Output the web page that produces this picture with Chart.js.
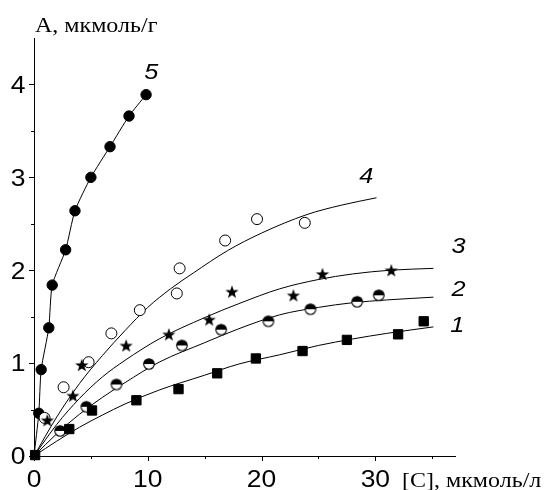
<!DOCTYPE html>
<html>
<head>
<meta charset="utf-8">
<script src="https://cdn.jsdelivr.net/npm/chart.js@4/dist/chart.umd.min.js"></script>
<style>
  html, body { margin: 0; padding: 0; background: #fff; }
  #chart { display: block; }
</style>
</head>
<body>
<canvas id="chart" width="544" height="490"></canvas>
<script>
// измеренные точки (x — [C], мкмоль/л; y — A, мкмоль/г)
const s1X = [0.1, 3.1, 5.1, 9.0, 12.7, 16.1, 19.5, 23.6, 27.5, 32.0, 34.25];
const s1Y = [0.01, 0.29, 0.49, 0.60, 0.72, 0.89, 1.05, 1.13, 1.25, 1.31, 1.45];

const s2X = [2.3, 4.6, 7.25, 10.1, 13.0, 16.45, 20.6, 24.3, 28.4, 30.3];
const s2Y = [0.27, 0.53, 0.77, 0.99, 1.19, 1.36, 1.45, 1.58, 1.66, 1.73];

const s3X = [1.17, 3.42, 4.2, 8.1, 11.85, 15.4, 17.4, 22.8, 25.35, 31.4];
const s3Y = [0.385, 0.65, 0.98, 1.19, 1.31, 1.47, 1.77, 1.73, 1.96, 2.0];

const s4X = [0.93, 2.6, 4.8, 6.8, 9.3, 12.55, 12.8, 16.8, 19.6, 23.8];
const s4Y = [0.41, 0.74, 1.01, 1.32, 1.57, 1.75, 2.02, 2.32, 2.55, 2.51];

const s5X = [0.42, 0.63, 1.3, 1.6, 2.78, 3.6, 5.0, 6.68, 8.35, 9.85];
const s5Y = [0.46, 0.93, 1.38, 1.84, 2.22, 2.64, 3.0, 3.33, 3.66, 3.89];

// аппроксимирующие кривые
const fit1X = [0, 2, 4, 6, 8, 11, 15, 18, 21.6, 25, 28, 31, 35.1];
const fit1Y = [0, 0.16, 0.31, 0.44, 0.56, 0.71, 0.87, 0.99, 1.09, 1.19, 1.26, 1.32, 1.39];
const fit2X = [0, 2, 4, 6, 8, 11, 15, 18, 21.6, 25, 28, 31, 35.1];
const fit2Y = [0, 0.24, 0.45, 0.63, 0.79, 1.01, 1.22, 1.37, 1.52, 1.60, 1.65, 1.68, 1.71];
const fit3X = [0, 2, 4, 6, 8, 11, 15, 18, 21.6, 25, 28, 31.3, 35.1];
const fit3Y = [0, 0.34, 0.62, 0.85, 1.03, 1.26, 1.49, 1.64, 1.80, 1.90, 1.96, 2.0, 2.02];
const fit4X = [0, 2, 4, 6, 8, 10, 12, 14, 17, 20, 24, 27, 30.1];
const fit4Y = [0, 0.42, 0.78, 1.08, 1.35, 1.60, 1.80, 1.97, 2.21, 2.40, 2.60, 2.70, 2.78];
const fit5X = [0, 0.42, 0.63, 1.3, 1.6, 2.78, 3.6, 5.0, 6.68, 8.35, 9.85];
const fit5Y = [0, 0.46, 0.93, 1.38, 1.84, 2.22, 2.64, 3.0, 3.33, 3.66, 3.89];

// оси
const xMajor = [0, 10, 20, 30];
const xMinor = [5, 15, 25, 35];
const yMajor = [0, 1, 2, 3, 4];
const yMinor = [0.5, 1.5, 2.5, 3.5];
const xTitle = '[C], мкмоль/л';
const yTitle = 'A, мкмоль/г';

// номера кривых
const curveNames = ['1', '2', '3', '4', '5'];
const curveNameX = [37.2, 37.3, 37.3, 29.2, 10.3];
const curveNameY = [1.34, 1.72, 2.19, 2.94, 4.06];

const toXY = (xs, ys) => xs.map((v, i) => ({ x: v, y: ys[i] }));

// маркеры
function halfCircle(r) {
    const s = Math.ceil(r * 2 + 3);
    const c = document.createElement('canvas');
    c.width = s; c.height = s;
    const g = c.getContext('2d');
    const m = s / 2;
    g.fillStyle = '#fff';
    g.beginPath(); g.arc(m, m, r, 0, Math.PI * 2); g.fill();
    g.fillStyle = '#000';
    g.beginPath(); g.arc(m, m, r, Math.PI, Math.PI * 2); g.closePath(); g.fill();
    g.strokeStyle = '#000'; g.lineWidth = 1.1;
    g.beginPath(); g.arc(m, m, r, 0, Math.PI * 2); g.stroke();
    return c;
}

function filledStar(R, r) {
    const s = Math.ceil(R * 2 + 2);
    const c = document.createElement('canvas');
    c.width = s; c.height = s;
    const g = c.getContext('2d');
    const m = s / 2;
    g.fillStyle = '#000';
    g.beginPath();
    for (let i = 0; i < 10; i++) {
        const a = -Math.PI / 2 + i * Math.PI / 5;
        const rr = i % 2 ? r : R;
        const px = m + rr * Math.cos(a), py = m + 0.7 + rr * Math.sin(a);
        if (i === 0) g.moveTo(px, py); else g.lineTo(px, py);
    }
    g.closePath();
    g.fill();
    return c;
}

function drawStretched(ctx, str, px, py, font, align, sx) {
    ctx.save();
    ctx.font = font;
    ctx.textAlign = 'left';
    ctx.textBaseline = 'alphabetic';
    const w = ctx.measureText(str).width * sx;
    const x0 = align === 'center' ? px - w / 2 : align === 'right' ? px - w : px;
    ctx.translate(x0, py);
    ctx.scale(sx, 1);
    ctx.fillStyle = '#000';
    ctx.fillText(str, 0, 0);
    ctx.restore();
}

const axisDecor = {
    id: 'axisDecor',
    afterDraw(chart) {
        const { ctx } = chart;
        const xs = chart.scales.x, ys = chart.scales.y;
        const bottom = ys.bottom, left = xs.left;
        ctx.save();
        ctx.strokeStyle = '#000';
        ctx.lineWidth = 1;
        const xTick = (v, len) => {
            const p = Math.round(xs.getPixelForValue(v)) + 0.5;
            ctx.beginPath(); ctx.moveTo(p, bottom); ctx.lineTo(p, bottom + len); ctx.stroke();
        };
        const yTick = (v, len) => {
            const p = Math.round(ys.getPixelForValue(v)) + 0.5;
            ctx.beginPath(); ctx.moveTo(left, p); ctx.lineTo(left - len, p); ctx.stroke();
        };
        xMajor.forEach(v => xTick(v, 5));
        xMinor.forEach(v => xTick(v, 3));
        yMajor.forEach(v => yTick(v, 5));
        yMinor.forEach(v => yTick(v, 3));
        ctx.restore();

        const tickFont = '23px "Liberation Sans", Arial, sans-serif';
        xMajor.forEach(v => drawStretched(ctx, String(v), xs.getPixelForValue(v), 487, tickFont, 'center', 1.15));
        yMajor.forEach(v => drawStretched(ctx, String(v), 25.5, ys.getPixelForValue(v) + 8.3, tickFont, 'right', 1.15));

        const titleFont = '20px "Liberation Serif", "Times New Roman", serif';
        drawStretched(ctx, yTitle, 35, 32, titleFont, 'left', 1.2);
        drawStretched(ctx, xTitle, 402, 487, titleFont, 'left', 1.2);

        const nameFont = 'italic 22px "Liberation Sans", Arial, sans-serif';
        curveNames.forEach((t, i) => {
            drawStretched(ctx, t, xs.getPixelForValue(curveNameX[i]), ys.getPixelForValue(curveNameY[i]), nameFont, 'center', 1.15);
        });
    }
};

const pointSet = (data, extra) => Object.assign({
    data,
    showLine: false,
    borderColor: '#000',
    backgroundColor: '#000',
    borderWidth: 1,
    pointRadius: 5.2,
    clip: false
}, extra);

const lineSet = (data, extra) => Object.assign({
    data,
    showLine: true,
    borderColor: '#000',
    borderWidth: 1,
    pointRadius: 0,
    cubicInterpolationMode: 'monotone',
    fill: false
}, extra);

new Chart(document.getElementById('chart'), {
    type: 'scatter',
    data: {
        datasets: [
            pointSet(toXY(s1X, s1Y), { pointStyle: 'rect', pointRadius: 6.6 }),
            pointSet(toXY(s2X, s2Y), { pointStyle: halfCircle(5.3) }),
            pointSet(toXY(s3X, s3Y), { pointStyle: filledStar(7, 2.8) }),
            pointSet(toXY(s4X, s4Y), { pointStyle: 'circle', backgroundColor: '#fff', pointRadius: 5.5 }),
            pointSet(toXY(s5X, s5Y), { pointStyle: 'circle' }),
            lineSet(toXY(fit1X, fit1Y)),
            lineSet(toXY(fit2X, fit2Y)),
            lineSet(toXY(fit3X, fit3Y)),
            lineSet(toXY(fit4X, fit4Y)),
            lineSet(toXY(fit5X, fit5Y), { cubicInterpolationMode: 'default', tension: 0.2 })
        ]
    },
    options: {
        responsive: false,
        animation: false,
        devicePixelRatio: 1,
        layout: { padding: { top: 38, right: 89, left: 0, bottom: 0 } },
        plugins: { legend: { display: false }, tooltip: { enabled: false } },
        scales: {
            x: {
                type: 'linear',
                min: 0,
                max: 37,
                grid: { display: false },
                border: { display: true, color: '#000', width: 1 },
                ticks: { display: false },
                afterFit: s => { s.height = 34; }
            },
            y: {
                type: 'linear',
                min: 0,
                max: 4.5,
                grid: { display: false },
                border: { display: true, color: '#000', width: 1 },
                ticks: { display: false },
                afterFit: s => { s.width = 34; }
            }
        }
    },
    plugins: [axisDecor]
});
</script>
</body>
</html>
